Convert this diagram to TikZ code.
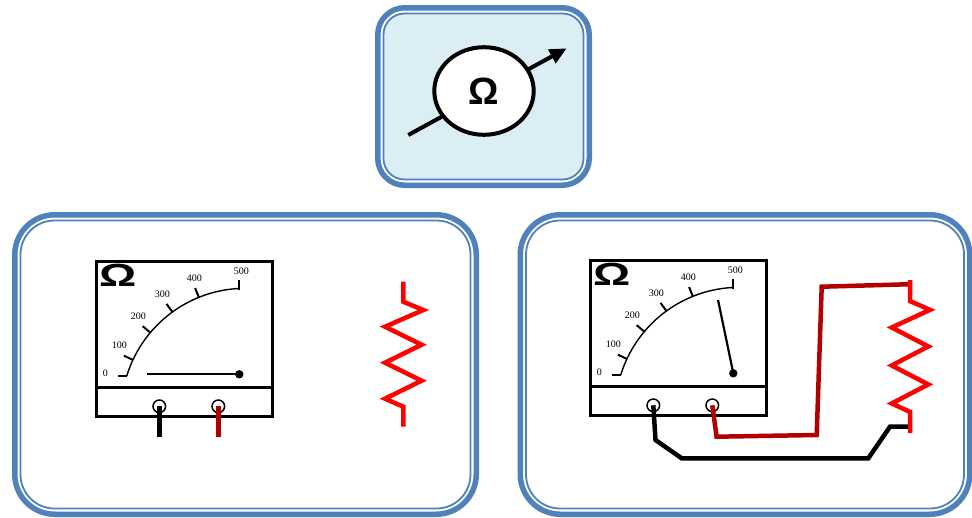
\documentclass[tikz,border=0pt]{standalone}
\usepackage{fontspec}
\setmainfont{Liberation Serif}
\newfontfamily\symfont{Liberation Sans}
\usetikzlibrary{arrows.meta,shapes.geometric}

\definecolor{frameblue}{HTML}{4F81BD}
\definecolor{panelfill}{HTML}{DBEEF4}
\definecolor{leadred}{HTML}{B00000}
\definecolor{resred}{HTML}{FF0000}

\pgfdeclarelayer{front}
\pgfsetlayers{main,front}

\tikzset{
  panelouter/.style={draw=frameblue, line width=5.5pt, fill=white},
  panelinner/.style={draw=frameblue, line width=1.8pt},
  meterline/.style={draw=black, line width=2.4pt},
  tickmark/.style={draw=black, line width=2pt},
  scalelabel/.style={font=\fontsize{10}{10}\selectfont, inner sep=0pt},
  needleline/.style={draw=black, line width=2.2pt},
  termring/.style={draw=black, line width=1.5pt, fill=white},
  blacklead/.style={draw=black, line width=4.5pt},
  redlead/.style={draw=leadred, line width=4.5pt},
  reszig/.style={draw=resred, line width=4.5pt},
  ohmsign/.style={font={\symfont\bfseries\fontsize{32}{32}\selectfont}, inner sep=0pt},
  % analogue ohmmeter face, origin at the upper left corner of the case
  pics/meter/.style={code={
    \draw[meterline] (0,0) rectangle (176,155);
    \draw[meterline] (0,126) -- (176,126);
    \node[ohmsign, xscale=1.45] (-ohm) at (21.5,14.5) {Ω};
    \draw[line width=1.4pt] plot[domain=93:163, samples=40]
      ({149+124*cos(\x)},{151-124*sin(\x)});
    \foreach \a in {155,140,126,112}
      \draw[tickmark] ({149+124*cos(\a)},{151-124*sin(\a)})
        -- ({149+134*cos(\a)},{151-134*sin(\a)});
    \draw[tickmark] (30.8,114.7) -- (22,114.7);
    \draw[tickmark] (142.5,28.2) -- (142.5,19);
    \node[scalelabel] (-s0) at (9,112) {0};
    \node[scalelabel] (-s1) at (23,84) {100};
    \node[scalelabel] (-s2) at (42,55) {200};
    \node[scalelabel] (-s3) at (66,33) {300};
    \node[scalelabel] (-s4) at (98,17) {400};
    \node[scalelabel] (-s5) at (145,10) {500};
    \coordinate (-pivot) at (143,113);
    \fill (-pivot) circle (4.2);
    \coordinate (-tb) at (63,145);
    \coordinate (-tr) at (122,145);
    \draw[termring] (-tb) circle (6.3);
    \draw[termring] (-tr) circle (6.3);
  }},
  % zigzag resistor, top lead end at the origin
  pics/resistor/.style={code={
    \coordinate (-top) at (0,0);
    \coordinate (-lead) at (0,4);
    \coordinate (-bot) at (0,145);
    \coordinate (-tap) at (0,139);
    \draw[reszig] (-top) -- (0,20) -- (20,28.3) -- (-18.3,45) -- (18.3,63)
      -- (-18.3,81) -- (18.3,99) -- (-18.3,117) -- (0,125) -- (-bot);
  }},
}

\begin{document}
\begin{tikzpicture}[x=1pt, y=-1pt]
  \useasboundingbox (0,0) rectangle (972,517);
  \clip (0,0) rectangle (972,517);

  % symbol panel
  \draw[panelouter, rounded corners=27pt] (377.75,7.75) rectangle (589.25,185.25);
  \draw[panelinner, fill=panelfill, rounded corners=21pt] (383.5,13.5) rectangle (583.5,179.5);

  % lower panels
  \draw[panelouter, rounded corners=40pt] (14.75,214.75) rectangle (476.25,514.25);
  \draw[panelinner, rounded corners=34pt] (20.5,220.5) rectangle (470.5,508.5);
  \draw[panelouter, rounded corners=40pt] (520.25,214.75) rectangle (969.75,514.25);
  \draw[panelinner, rounded corners=34pt] (526,220.5) rectangle (964,508.5);

  % ohmmeter circuit symbol
  \coordinate (arrowtail) at (408.3,135);
  \coordinate (arrowtip) at (566.7,48.3);
  \draw[line width=4pt, -{Triangle[length=17pt,width=15pt]}] (arrowtail) -- (arrowtip);
  \node[ellipse, draw, line width=4pt, fill=white, minimum width=99.4pt,
        minimum height=87.6pt, inner sep=0pt,
        font={\symfont\bfseries\fontsize{38}{38}\selectfont}] (symbol) at (484,91) {Ω};

  % open circuit: meter at rest and loose resistor
  \begin{scope}[shift={(96.3,261.3)}]
    \pic (LM) {meter};
    \coordinate (LMrest) at (51,113);
    \draw[needleline] (LMrest) -- (LM-pivot);
  \end{scope}
  \draw[blacklead] (LM-tb) -- ++(0,31) coordinate (LMbend);
  \draw[redlead] (LM-tr) -- ++(0,31) coordinate (LMrend);
  \pic (LR) at (403.3,281.7) {resistor};

  % closed circuit: meter across the resistor
  \begin{scope}[shift={(590.3,260.3)}, scale=1.035]
    \pic (RM) {meter};
    \coordinate (RMswing) at (123.4,38.4);
    \draw[needleline] (RMswing) -- (RM-pivot);
  \end{scope}
  \begin{pgfonlayer}{front}
    \pic[yscale=1.055] (RR) at (910,280) {resistor};
  \end{pgfonlayer}
  \draw[redlead] (RM-tr) -- (716.6,436.7) -- (816.7,435) -- (821.7,286.7) -- (RR-lead);
  \draw[blacklead] (RM-tb) -- (655.5,440) -- (681.7,458.3) -- (868.3,458.3)
    -- (890,426.7) -- (RR-tap);
\end{tikzpicture}
\end{document}
